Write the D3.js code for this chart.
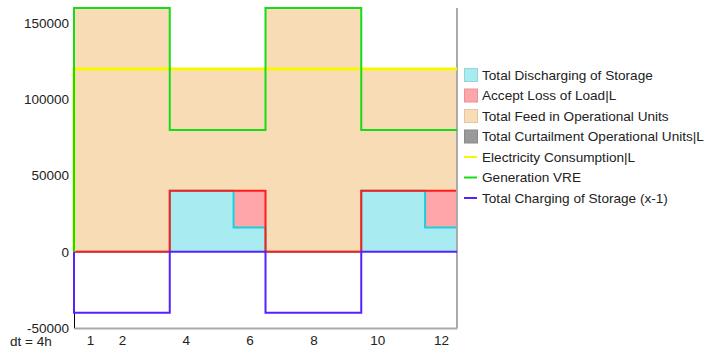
<!DOCTYPE html>
<html>
<head>
<meta charset="utf-8">
<script src="https://cdn.jsdelivr.net/npm/d3@7"></script>
<style>
  body { margin: 0; background: #fff; }
  text { font-family: "Liberation Sans", Arial, sans-serif; fill: #222; }
</style>
</head>
<body>
<svg width="705" height="351"></svg>
<script>
// set data

const steps = [1, 2, 3, 4, 5, 6, 7, 8, 9, 10, 11, 12];
const xTicks = [1, 2, 4, 6, 8, 10, 12];
const yTicks = [-50000, 0, 50000, 100000, 150000];

const discharging   = [0, 0, 0, 40000, 40000, 16000, 0, 0, 0, 40000, 40000, 16000];
const lossOfLoad    = [0, 0, 0, 0, 0, 24000, 0, 0, 0, 0, 0, 24000];
const feedIn        = [160000, 160000, 160000, 80000, 80000, 80000, 160000, 160000, 160000, 80000, 80000, 80000];
const curtailment   = [0, 0, 0, 0, 0, 0, 0, 0, 0, 0, 0, 0];
const consumption   = [120000, 120000, 120000, 120000, 120000, 120000, 120000, 120000, 120000, 120000, 120000, 120000];
const generationVRE = [160000, 160000, 160000, 80000, 80000, 80000, 160000, 160000, 160000, 80000, 80000, 80000];
const charging      = [-40000, -40000, -40000, 0, 0, 0, -40000, -40000, -40000, 0, 0, 0];

const areaSeries = [
  { key: "discharging", name: "Total Discharging of Storage", values: discharging, fill: "#a8ecf2", stroke: "#1ccfdc" },
  { key: "loss", name: "Accept Loss of Load|L", values: lossOfLoad, fill: "#ffa6aa", stroke: "#ff1c1c" },
  { key: "feed", name: "Total Feed in Operational Units", values: feedIn, fill: "#f8dcb6", stroke: null },
  { key: "curt", name: "Total Curtailment Operational Units|L", values: curtailment, fill: "#9a9a9a", stroke: null }
];
const lineSeries = [
  { name: "Electricity Consumption|L", values: consumption, color: "#f7f700", width: 3 },
  { name: "Generation VRE", values: generationVRE, color: "#16dc16", width: 2 },
  { name: "Total Charging of Storage (x-1)", values: charging, color: "#5522ff", width: 2 }
];

// dimensions

const plotLeft = 74, plotRight = 457, plotTop = 8, plotBottom = 328;

const svg = d3.select("svg");

const x = d3.scaleLinear().domain([0.5, 12.5]).range([plotLeft, plotRight]);
const y = d3.scaleLinear().domain([-50000, 160000]).range([plotBottom, plotTop]);

// stacked areas (step after, one extra point to close last step)

const rows = steps.map((s, i) => {
  const r = { step: s };
  areaSeries.forEach(a => r[a.key] = a.values[i]);
  return r;
});
rows.push(Object.assign({}, rows[rows.length - 1], { step: 13 }));

const stack = d3.stack().keys(areaSeries.map(a => a.key));
const layers = stack(rows);

const area = d3.area()
  .curve(d3.curveStepAfter)
  .x(d => x(d.data.step - 0.5))
  .y0(d => y(d[0]))
  .y1(d => y(d[1]));

svg.selectAll(".layer")
  .data(layers)
  .enter()
  .append("path")
  .attr("class", "layer")
  .attr("fill", (d, i) => areaSeries[i].fill)
  .attr("d", area);

const topLine = d3.line()
  .curve(d3.curveStepAfter)
  .x(d => x(d.data.step - 0.5))
  .y(d => y(d[1]));

layers.forEach((l, i) => {
  if (!areaSeries[i].stroke) return;
  svg.append("path")
    .attr("fill", "none")
    .attr("stroke", areaSeries[i].stroke)
    .attr("stroke-width", 2)
    .attr("d", topLine(l));
});

// axes

const yAxis = svg.append("g")
  .attr("transform", `translate(${plotLeft},0)`)
  .call(d3.axisLeft(y).tickValues(yTicks).tickSize(0).tickPadding(5).tickFormat(d => String(d)));
yAxis.select(".domain").attr("stroke", "#000");
yAxis.selectAll("text").style("font-size", "13.5px").attr("fill", "#222");

const xAxis = svg.append("g")
  .attr("transform", `translate(0,${plotBottom})`)
  .call(d3.axisBottom(x).tickValues(xTicks).tickSize(0).tickPadding(7));
xAxis.select(".domain").attr("stroke", "#aaa").attr("stroke-width", 2);
xAxis.selectAll("text").style("font-size", "13.5px").attr("fill", "#222");

svg.append("line")
  .attr("x1", plotRight).attr("x2", plotRight)
  .attr("y1", plotTop).attr("y2", plotBottom)
  .attr("stroke", "#aaa").attr("stroke-width", 2);

svg.append("text")
  .attr("x", 10).attr("y", 346)
  .style("font-size", "13.5px")
  .text("dt = 4h");

// lines

const stepLine = d3.line()
  .curve(d3.curveStepAfter)
  .x(d => x(d[0]))
  .y(d => y(d[1]));

lineSeries.forEach(s => {
  const pts = [[0.5, 0]].concat(steps.map((st, i) => [st - 0.5, s.values[i]]));
  pts.push([12.5, s.values[s.values.length - 1]]);
  svg.append("path")
    .attr("fill", "none")
    .attr("stroke", s.color)
    .attr("stroke-width", s.width)
    .attr("d", stepLine(pts));
});

// legend

const legend = svg.append("g").attr("transform", "translate(464,75)");
const rowH = 20.5;

areaSeries.forEach((a, i) => {
  const g = legend.append("g").attr("transform", `translate(0,${i * rowH})`);
  g.append("rect")
    .attr("x", 0.5).attr("y", -6.5)
    .attr("width", 13).attr("height", 13)
    .attr("fill", a.fill)
    .attr("stroke", d3.color(a.fill).darker(0.3))
    .attr("stroke-width", 1);
  g.append("text")
    .attr("x", 18).attr("y", 0)
    .attr("dy", "0.35em")
    .style("font-size", "13.6px")
    .text(a.name);
});

lineSeries.forEach((s, j) => {
  const g = legend.append("g").attr("transform", `translate(0,${(j + areaSeries.length) * rowH})`);
  g.append("line")
    .attr("x1", 0).attr("x2", 13)
    .attr("stroke", s.color).attr("stroke-width", 2);
  g.append("text")
    .attr("x", 18).attr("y", 0)
    .attr("dy", "0.35em")
    .style("font-size", "13.6px")
    .text(s.name);
});
</script>
</body>
</html>
